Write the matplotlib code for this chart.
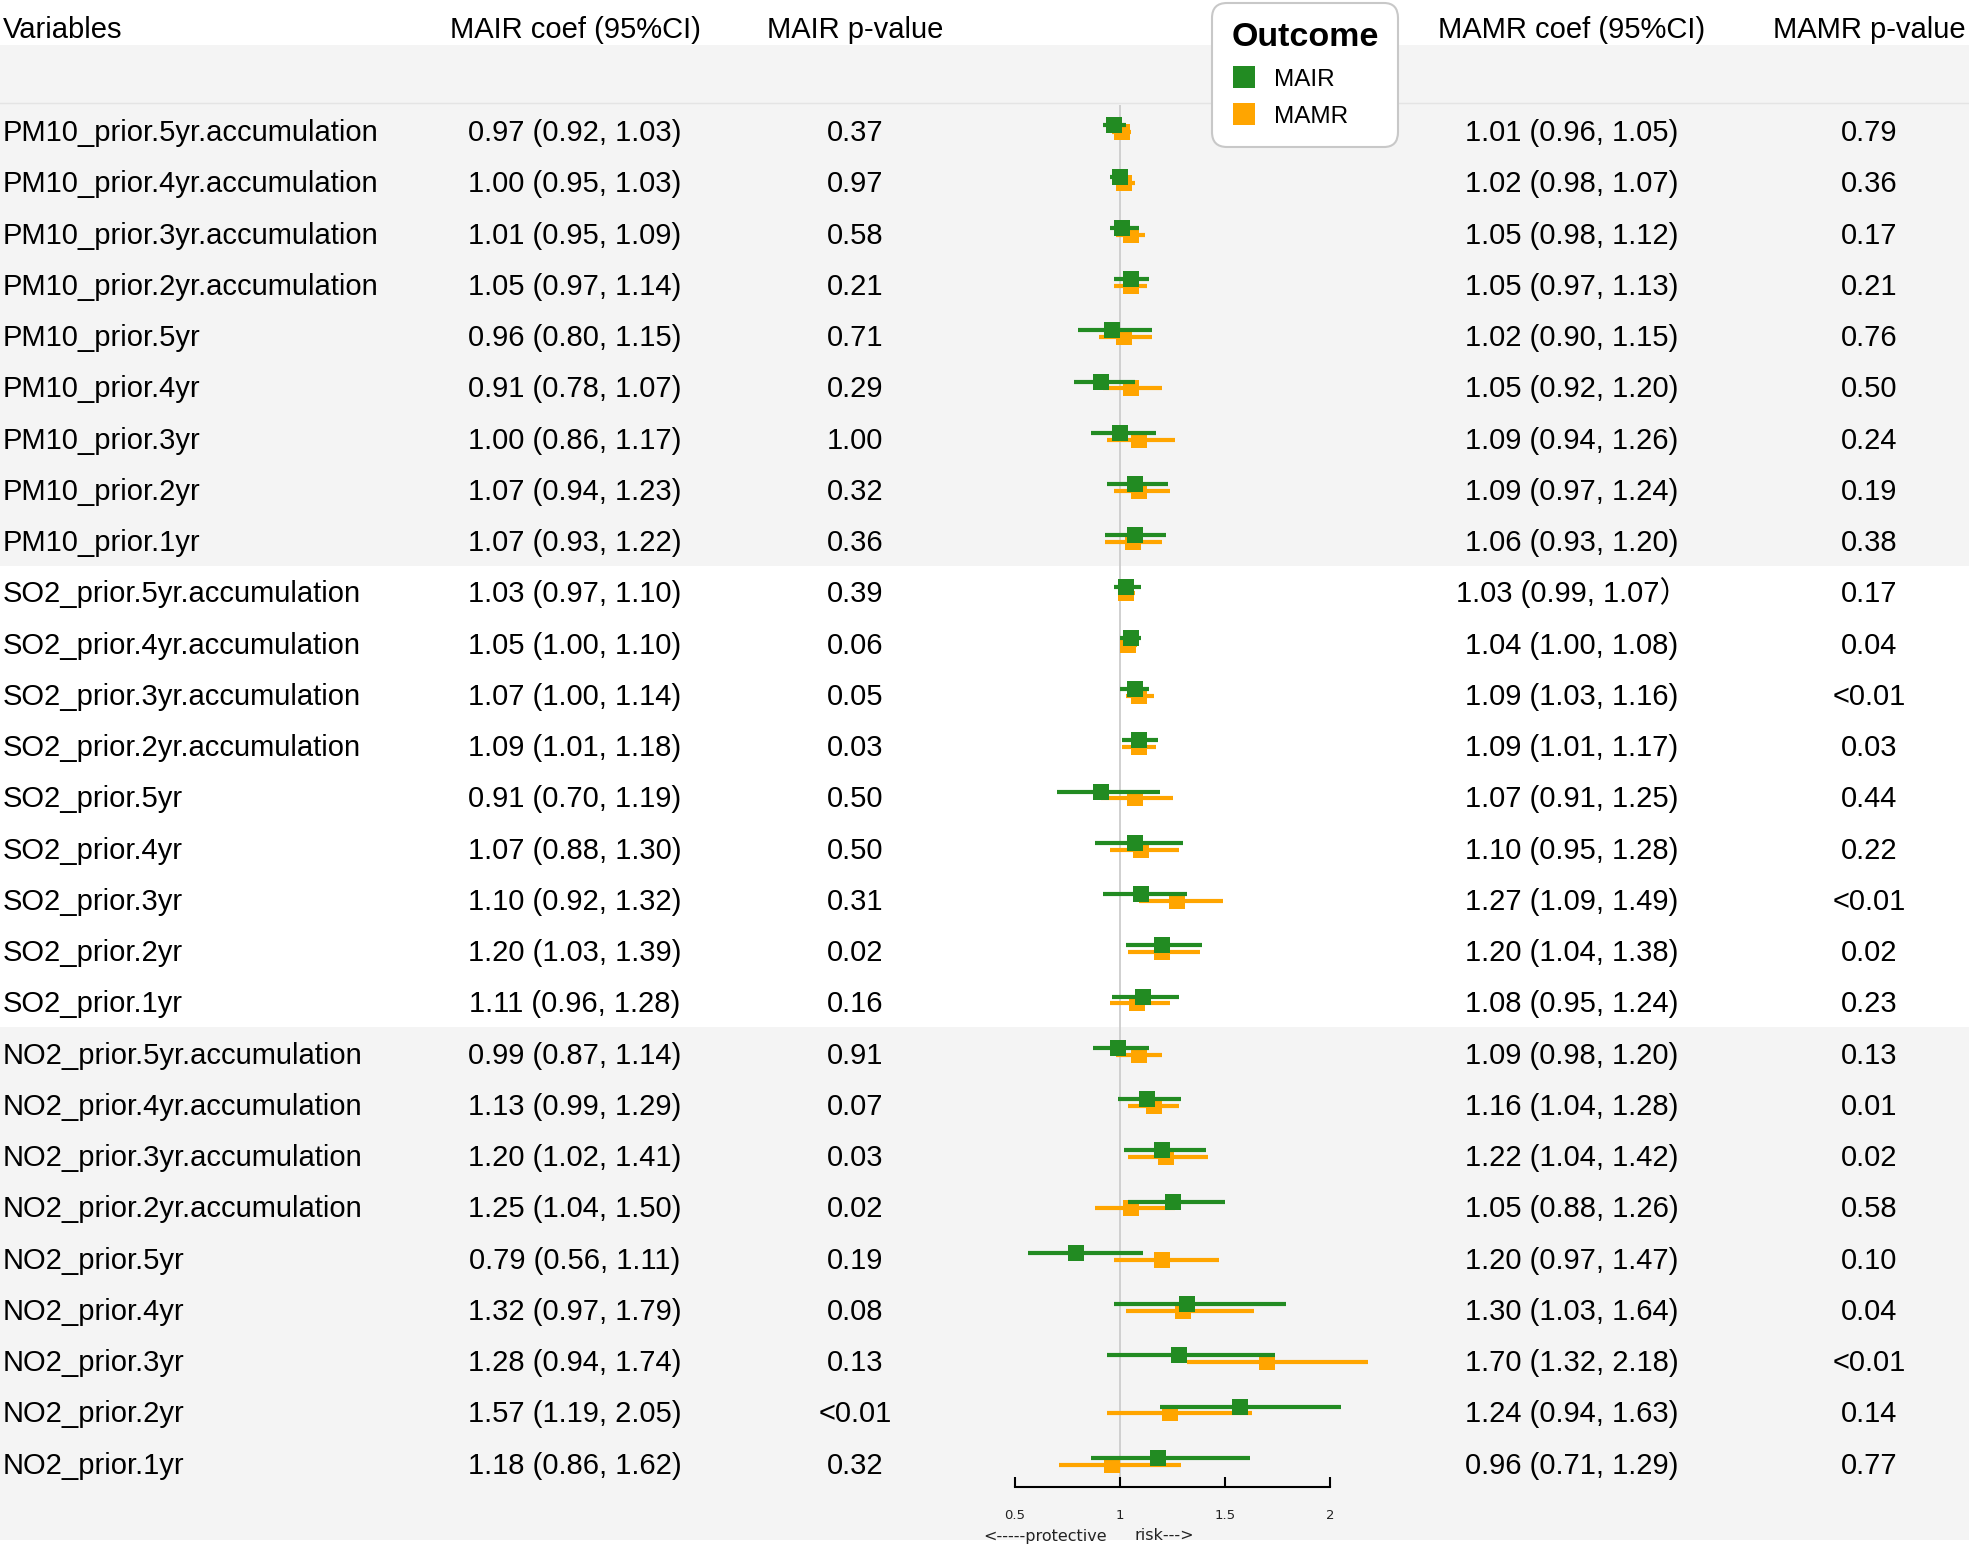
import matplotlib
matplotlib.use("Agg")
import matplotlib.pyplot as plt
from matplotlib.lines import Line2D

plt.rcParams['font.family'] = ['Liberation Sans', 'Noto Sans CJK SC', 'DejaVu Sans']

variables = [
    "PM10_prior.5yr.accumulation", "PM10_prior.4yr.accumulation",
    "PM10_prior.3yr.accumulation", "PM10_prior.2yr.accumulation",
    "PM10_prior.5yr", "PM10_prior.4yr", "PM10_prior.3yr",
    "PM10_prior.2yr", "PM10_prior.1yr",
    "SO2_prior.5yr.accumulation", "SO2_prior.4yr.accumulation",
    "SO2_prior.3yr.accumulation", "SO2_prior.2yr.accumulation",
    "SO2_prior.5yr", "SO2_prior.4yr", "SO2_prior.3yr",
    "SO2_prior.2yr", "SO2_prior.1yr",
    "NO2_prior.5yr.accumulation", "NO2_prior.4yr.accumulation",
    "NO2_prior.3yr.accumulation", "NO2_prior.2yr.accumulation",
    "NO2_prior.5yr", "NO2_prior.4yr", "NO2_prior.3yr",
    "NO2_prior.2yr", "NO2_prior.1yr",
]

mair_est = [0.97, 1.00, 1.01, 1.05, 0.96, 0.91, 1.00, 1.07, 1.07,
            1.03, 1.05, 1.07, 1.09, 0.91, 1.07, 1.10, 1.20, 1.11,
            0.99, 1.13, 1.20, 1.25, 0.79, 1.32, 1.28, 1.57, 1.18]
mair_lo = [0.92, 0.95, 0.95, 0.97, 0.80, 0.78, 0.86, 0.94, 0.93,
           0.97, 1.00, 1.00, 1.01, 0.70, 0.88, 0.92, 1.03, 0.96,
           0.87, 0.99, 1.02, 1.04, 0.56, 0.97, 0.94, 1.19, 0.86]
mair_hi = [1.03, 1.03, 1.09, 1.14, 1.15, 1.07, 1.17, 1.23, 1.22,
           1.10, 1.10, 1.14, 1.18, 1.19, 1.30, 1.32, 1.39, 1.28,
           1.14, 1.29, 1.41, 1.50, 1.11, 1.79, 1.74, 2.05, 1.62]
mair_p = ["0.37", "0.97", "0.58", "0.21", "0.71", "0.29", "1.00", "0.32", "0.36",
          "0.39", "0.06", "0.05", "0.03", "0.50", "0.50", "0.31", "0.02", "0.16",
          "0.91", "0.07", "0.03", "0.02", "0.19", "0.08", "0.13", "<0.01", "0.32"]

mamr_est = [1.01, 1.02, 1.05, 1.05, 1.02, 1.05, 1.09, 1.09, 1.06,
            1.03, 1.04, 1.09, 1.09, 1.07, 1.10, 1.27, 1.20, 1.08,
            1.09, 1.16, 1.22, 1.05, 1.20, 1.30, 1.70, 1.24, 0.96]
mamr_lo = [0.96, 0.98, 0.98, 0.97, 0.90, 0.92, 0.94, 0.97, 0.93,
           0.99, 1.00, 1.03, 1.01, 0.91, 0.95, 1.09, 1.04, 0.95,
           0.98, 1.04, 1.04, 0.88, 0.97, 1.03, 1.32, 0.94, 0.71]
mamr_hi = [1.05, 1.07, 1.12, 1.13, 1.15, 1.20, 1.26, 1.24, 1.20,
           1.07, 1.08, 1.16, 1.17, 1.25, 1.28, 1.49, 1.38, 1.24,
           1.20, 1.28, 1.42, 1.26, 1.47, 1.64, 2.18, 1.63, 1.29]
mamr_p = ["0.79", "0.36", "0.17", "0.21", "0.76", "0.50", "0.24", "0.19", "0.38",
          "0.17", "0.04", "<0.01", "0.03", "0.44", "0.22", "<0.01", "0.02", "0.23",
          "0.13", "0.01", "0.02", "0.58", "0.10", "0.04", "<0.01", "0.14", "0.77"]

headers = ["Variables", "MAIR coef (95%CI)", "MAIR p-value",
           "MAMR coef (95%CI)", "MAMR p-value"]
xticks = [0.5, 1, 1.5, 2]
xtick_labels = ["0.5", "1", "1.5", "2"]

mair_txt = [f"{e:.2f} ({l:.2f}, {h:.2f})" for e, l, h in zip(mair_est, mair_lo, mair_hi)]
mamr_txt = [f"{e:.2f} ({l:.2f}, {h:.2f})" for e, l, h in zip(mamr_est, mamr_lo, mamr_hi)]
mamr_txt[9] = mamr_txt[9][:-1] + "\uff09"   # full-width paren as in the source

green = "#228B22"
orange = "#FFA500"
band = "#f4f4f4"

# layout in pixels
W, H = 1969, 1546
row0, rowh = 130.6, 51.25
n = len(variables)
fs = 21
col_x = [3, 575, 855, 1572, 1869]
axis_y = 1487
top_y = 105

fig = plt.figure(figsize=(W / 100, H / 100), dpi=100)
bg = fig.add_axes([0, 0, 1, 1])
bg.set_xlim(0, W)
bg.set_ylim(H, 0)
bg.axis("off")

# background bands
bg.axhspan(45, 103, color=band, lw=0)
bg.axhline(103, color="#e4e4e4", lw=1)
bg.axhspan(104, row0 + 8.5 * rowh, color=band, lw=0)
bg.axhspan(row0 + 17.5 * rowh, 1540, color=band, lw=0)

# header
base = 10.5
bg.text(col_x[0], 27 + base, headers[0], fontsize=fs, va="baseline", ha="left")
for x, h in zip(col_x[1:], headers[1:]):
    bg.text(x, 27 + base, h, fontsize=fs, va="baseline", ha="center")

# table rows
for i in range(n):
    y = row0 + i * rowh + base
    bg.text(col_x[0], y, variables[i], fontsize=fs, va="baseline", ha="left")
    bg.text(col_x[1], y, mair_txt[i], fontsize=fs, va="baseline", ha="center")
    bg.text(col_x[2], y, mair_p[i], fontsize=fs, va="baseline", ha="center")
    bg.text(col_x[3], y, mamr_txt[i], fontsize=fs, va="baseline", ha="center")
    bg.text(col_x[4], y, mamr_p[i], fontsize=fs, va="baseline", ha="center")

# forest panel
x0, x1 = 1015, 1330
ax = fig.add_axes([x0 / W, (H - axis_y) / H, (x1 - x0) / W, (axis_y - top_y) / H])
ax.patch.set_visible(False)
ax.set_xlim(0.5, 2)
ax.set_ylim((axis_y - row0) / rowh, (top_y - row0) / rowh)
for s in ["top", "left", "right"]:
    ax.spines[s].set_visible(False)
ax.spines["bottom"].set_linewidth(1.5)
ax.set_yticks([])
ax.set_xticks(xticks)
ax.set_xticklabels(xtick_labels, family="DejaVu Sans", color="#222222")
ax.tick_params(axis="x", direction="in", length=7, width=1.5, labelsize=9.5, pad=16)
ax.axvline(1, color="#d0d0d0", lw=1.4, zorder=0)

rows = list(range(n))
y_or = [r + 0.03 for r in rows]
y_gr = [r - 0.1 for r in rows]
ax.hlines(y_or, mamr_lo, mamr_hi, color=orange, lw=3, clip_on=False, zorder=2)
ax.plot(mamr_est, y_or, "s", color=orange, ms=12.2, mew=0, clip_on=False, zorder=3)
ax.hlines(y_gr, mair_lo, mair_hi, color=green, lw=3, clip_on=False, zorder=4)
ax.plot(mair_est, y_gr, "s", color=green, ms=12.2, mew=0, clip_on=False, zorder=5)

bg.text(1107, 1536, "<-----protective", fontsize=11.5, family="DejaVu Sans",
        ha="right", va="center", color="#222222")
bg.text(1135, 1536, "risk--->", fontsize=11.5, family="DejaVu Sans",
        ha="left", va="center", color="#222222")

# legend
handles = [Line2D([], [], marker="s", ls="none", color=green, ms=15.5, mew=0),
           Line2D([], [], marker="s", ls="none", color=orange, ms=15.5, mew=0)]
leg = fig.legend(handles, ["MAIR", "MAMR"], title="Outcome", loc="upper left",
                 bbox_to_anchor=(1212 / W, 1 - 3 / H), bbox_transform=fig.transFigure,
                 borderaxespad=0, fontsize=17.5, alignment="left",
                 title_fontproperties={"weight": "bold", "size": 24.5},
                 handlelength=1.0, handletextpad=0.75, borderpad=0.8,
                 labelspacing=0.62, frameon=True, fancybox=True,
                 edgecolor="#c8c8c8", facecolor="white", framealpha=1)
leg.get_frame().set_linewidth(1.5)
leg.get_frame().set_boxstyle("round,pad=0,rounding_size=0.6")

fig.savefig("out.png", dpi=100)
